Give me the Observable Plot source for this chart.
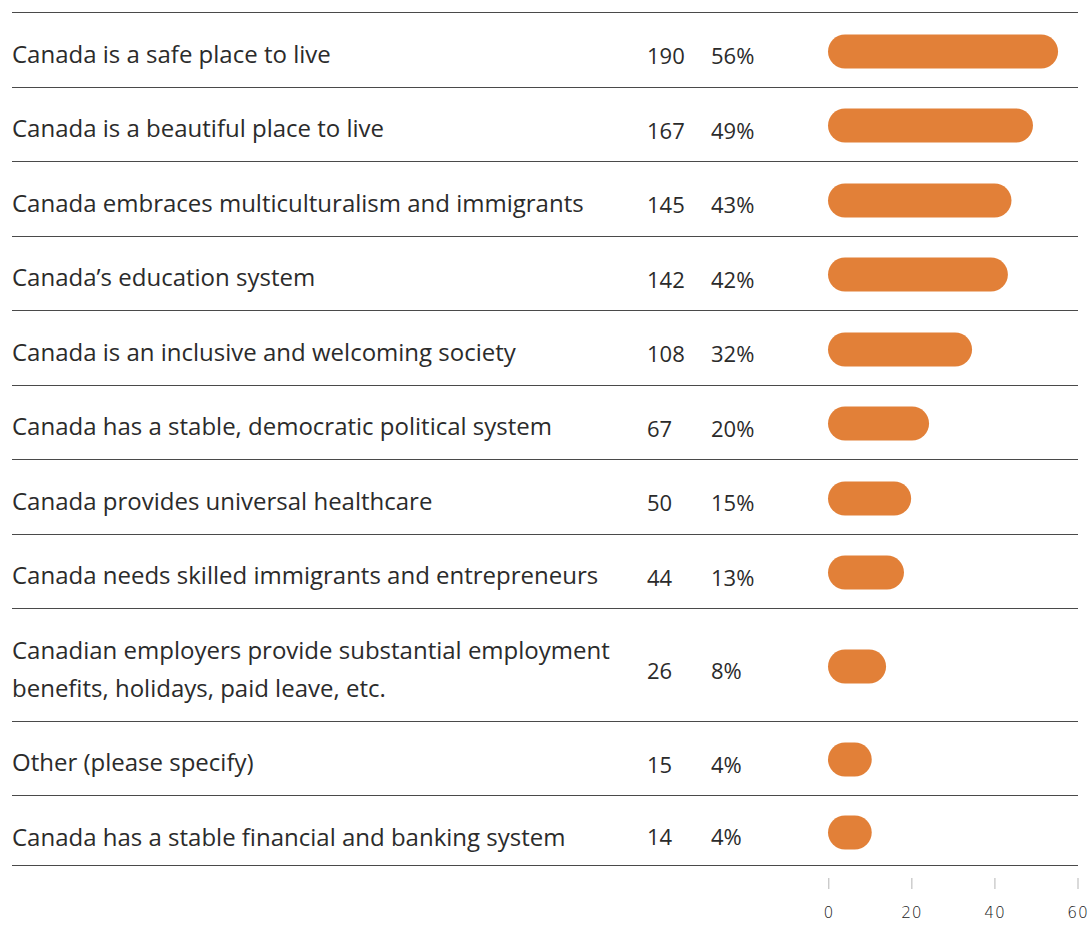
<!DOCTYPE html>
<html>
<head>
<meta charset="utf-8">
<script src="https://cdn.jsdelivr.net/npm/d3@7"></script>
<script src="https://cdn.jsdelivr.net/npm/@observablehq/plot@0.6"></script>
<style>
  html, body { margin: 0; padding: 0; background: #fff; }
  body { width: 1088px; height: 925px; position: relative; overflow: hidden; font-family: "Open Sans", sans-serif; color: #2b2b2b; }
  #table { position: absolute; left: 12px; top: 12px; width: 1066px; }
  .row { display: flex; border-top: 1px solid #4a4a4a; box-sizing: border-box; }
  .row:last-child { border-bottom: 1px solid #4a4a4a; }
  .label { box-sizing: border-box; width: 635px; padding: 21.5px 15px 14px 0; font-size: 24px; line-height: 38px; }
  .row:last-child .label { padding-bottom: 9.5px; }
  .num { box-sizing: border-box; display: flex; align-items: center; padding-top: 11px; font-size: 22px; line-height: 38px; }
  .count { width: 64px; }
  .pct { width: 89px; }
  .bar { width: 278px; display: flex; align-items: center; }
  .bar svg { display: block; }
  #axis { position: absolute; left: 800px; top: 866px; }
</style>
</head>
<body>
<div id="table"></div>
<div id="axis"></div>
<script>
const categories = [
  "Canada is a safe place to live",
  "Canada is a beautiful place to live",
  "Canada embraces multiculturalism and immigrants",
  "Canada’s education system",
  "Canada is an inclusive and welcoming society",
  "Canada has a stable, democratic political system",
  "Canada provides universal healthcare",
  "Canada needs skilled immigrants and entrepreneurs",
  "Canadian employers provide substantial employment benefits, holidays, paid leave, etc.",
  "Other (please specify)",
  "Canada has a stable financial and banking system"
];
const counts = [190, 167, 145, 142, 108, 67, 50, 44, 26, 15, 14];
const percents = [56, 49, 43, 42, 32, 20, 15, 13, 8, 4, 4];
const axisTicks = [0, 20, 40, 60];

const orange = "#e28038";
const table = document.getElementById("table");

categories.forEach((cat, i) => {
  const row = document.createElement("div");
  row.className = "row";
  const lab = document.createElement("div");
  lab.className = "label";
  lab.textContent = cat;
  const cnt = document.createElement("div");
  cnt.className = "num count";
  cnt.textContent = String(counts[i]);
  const pct = document.createElement("div");
  pct.className = "num pct";
  pct.textContent = percents[i] + "%";
  const bar = document.createElement("div");
  bar.className = "bar";
  bar.appendChild(Plot.plot({
    width: 278,
    height: 38,
    marginTop: 3.5,
    marginBottom: 0.5,
    marginLeft: 0,
    marginRight: 0,
    x: {domain: [0, 60], range: [28, 243], axis: null},
    marks: [
      Plot.barX([{value: percents[i]}], {x: "value", fill: orange, rx: 17, insetRight: -29.4})
    ]
  }));
  row.append(lab, cnt, pct, bar);
  table.appendChild(row);
});

document.getElementById("axis").appendChild(Plot.plot({
  width: 288,
  height: 59,
  marginTop: 0,
  marginBottom: 47,
  marginLeft: 0,
  marginRight: 0,
  x: {domain: [0, 60], range: [28.3, 277.5]},
  style: {fontFamily: "DejaVu Sans", fontSize: "15.5px", fontWeight: 300, letterSpacing: "0.8px", color: "#222", background: "transparent"},
  marks: [
    Plot.axisX({ticks: axisTicks, tickSize: 11, tickPadding: 17, stroke: "#b5b5b5", fill: "#222", anchor: "bottom"})
  ]
}));
</script>
</body>
</html>
